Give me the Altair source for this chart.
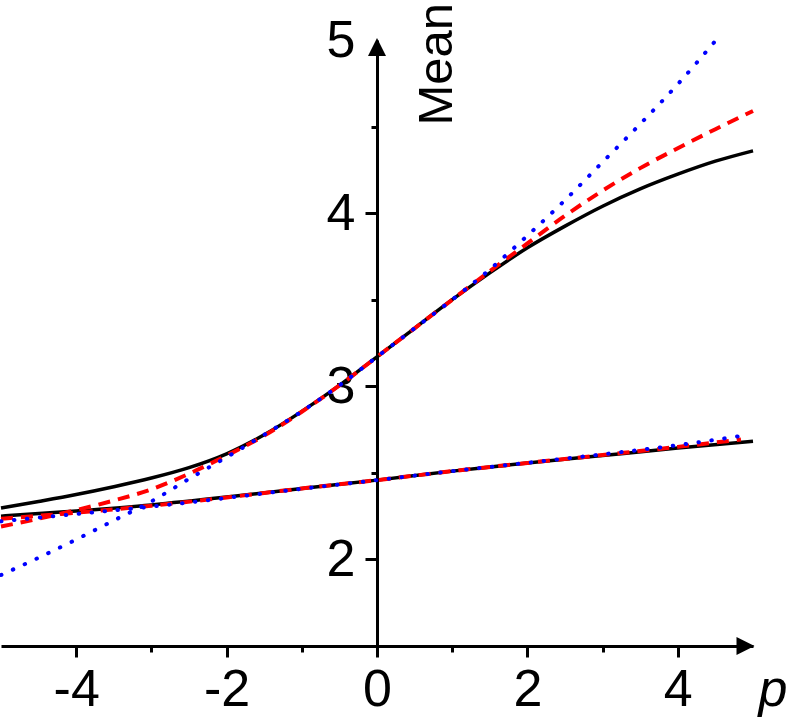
import altair as alt
import pandas as pd

# ---------------- data ----------------
UP_X = [-5.0, -4.5, -4.0, -3.5, -3.0, -2.5, -2.0, -1.5, -1.0, -0.5, 0.0,
        0.5, 1.0, 1.5, 2.0, 2.5, 3.0, 3.5, 4.0, 4.5, 5.0]
UP_BLACK = [2.297, 2.335, 2.375, 2.42, 2.47, 2.53, 2.61, 2.72, 2.855, 3.005, 3.17,
            3.335, 3.50, 3.655, 3.80, 3.925, 4.04, 4.14, 4.225, 4.30, 4.36]
UP_RED = [2.19, 2.235, 2.285, 2.34, 2.405, 2.495, 2.60, 2.715, 2.853, 3.005, 3.17,
          3.335, 3.50, 3.665, 3.825, 3.985, 4.13, 4.26, 4.375, 4.485, 4.59]
UP_BLUE_X = [-5.0, -4.5, -4.0, -3.5, -3.0, -2.5, -2.0, -1.5, -1.0, -0.5, 0.0,
             0.5, 1.0, 1.5, 2.0, 2.5, 3.0, 3.5, 4.0, 4.5]
UP_BLUE = [1.91, 2.01, 2.115, 2.225, 2.335, 2.465, 2.59, 2.72, 2.855, 3.005, 3.17,
           3.335, 3.50, 3.675, 3.87, 4.075, 4.295, 4.515, 4.745, 4.995]

LOW_X = [-5, -4, -3, -2, -1, 0, 1, 2, 3, 4, 5]
LOW_BLACK = [2.25, 2.28, 2.315, 2.36, 2.41, 2.458, 2.51, 2.557, 2.60, 2.643, 2.683]
LOW_RED_X = [-5, -4, -3, -2, -1, 0, 1, 2, 3, 4, 4.84]
LOW_RED = [2.235, 2.27, 2.31, 2.358, 2.41, 2.458, 2.51, 2.557, 2.603, 2.65, 2.693]
LOW_BLUE_X = [-5, -4, -3, -2, -1, 0, 1, 2, 3, 4, 4.82]
LOW_BLUE = [2.22, 2.262, 2.305, 2.355, 2.408, 2.458, 2.51, 2.558, 2.607, 2.66, 2.712]

X_TICKS = [-4, -3, -2, -1, 0, 1, 2, 3, 4]
Y_TICKS = [2, 2.5, 3, 3.5, 4, 4.5, 5]
X_DOMAIN = [-5, 5]
Y_DOMAIN = [1.5, 5]


def frame(xs, ys, name):
    return pd.DataFrame({"x": xs, "y": ys, "curve": name})


black_df = pd.concat([frame(UP_X, UP_BLACK, "upper"), frame(LOW_X, LOW_BLACK, "lower")])
red_df = pd.concat([frame(UP_X, UP_RED, "upper"), frame(LOW_RED_X, LOW_RED, "lower")])
blue_df = pd.concat([frame(UP_BLUE_X, UP_BLUE, "upper"), frame(LOW_BLUE_X, LOW_BLUE, "lower")])

W, H = 752, 606
FONT = "Liberation Sans"

xs = alt.Scale(domain=X_DOMAIN, nice=False, zero=False)
ys = alt.Scale(domain=Y_DOMAIN, nice=False, zero=False)

x_axis = alt.Axis(
    values=X_TICKS,
    labelExpr="datum.value % 2 === 0 ? '' + datum.value : ''",
    tickSize={"condition": {"test": "datum.value % 2 !== 0", "value": 6}, "value": 11},
    tickWidth=3, tickColor="black",
    domainWidth=3, domainColor="black",
    labelFont=FONT, labelFontSize=52, labelColor="black", labelPadding=7,
    labelOverlap=False, labelFlush=False,
    grid=False,
    title="p", titleFont=FONT, titleFontSize=52, titleFontStyle="italic",
    titleFontWeight="normal", titleColor="black", titleAngle=0,
    titleAlign="left", titleBaseline="alphabetic", titleX=757, titleY=59,
)

y_axis = alt.Axis(
    values=Y_TICKS, orient="left", offset=-W / 2,
    labelExpr="datum.value % 1 === 0 ? '' + datum.value : ''",
    tickSize={"condition": {"test": "datum.value % 1 !== 0", "value": 6}, "value": 12},
    tickOpacity={"condition": {"test": "datum.value >= 5", "value": 0}, "value": 1},
    tickWidth=3, tickColor="black",
    domainWidth=3, domainColor="black",
    labelFont=FONT, labelFontSize=52, labelColor="black", labelPadding=10,
    labelOverlap=False, labelFlush=False,
    grid=False,
    title="Mean", titleFont=FONT, titleFontSize=49, titleFontWeight="normal",
    titleColor="black", titleAngle=270, titleAlign="left",
    titleBaseline="alphabetic", titleX=74, titleY=85,
)

xe = alt.X("x:Q", scale=xs, axis=x_axis)
ye = alt.Y("y:Q", scale=ys, axis=y_axis)

black = alt.Chart(black_df).mark_line(
    color="black", strokeWidth=3.5, interpolate="monotone"
).encode(x=xe, y=ye, detail="curve:N")

red = alt.Chart(red_df).mark_line(
    color="#ff0000", strokeWidth=4, strokeDash=[12, 8], interpolate="monotone"
).encode(x=xe, y=ye, detail="curve:N")

blue = alt.Chart(blue_df).mark_line(
    color="#0000ff", strokeWidth=4, strokeDash=[0.5, 12.5], strokeCap="round",
    interpolate="monotone"
).encode(x=xe, y=ye, detail="curve:N")

# axis arrow heads
up_arrow = alt.Chart(pd.DataFrame({"x": [0.0], "y": [4.96]})).mark_point(
    shape="M0,-1L1,1L-1,1Z", filled=True, size=324, color="black", opacity=1
).encode(x=xe, y=ye)

right_arrow = alt.Chart(pd.DataFrame({"x": [4.9], "y": [1.5]})).mark_point(
    shape="M1,0L-1,-1L-1,1Z", filled=True, size=324, color="black", opacity=1
).encode(x=xe, y=ye)

chart = alt.layer(black, red, blue, up_arrow, right_arrow).properties(
    width=W, height=H,
    autosize=alt.AutoSizeParams(type="none"),
    padding={"left": 1, "top": 40, "right": 34, "bottom": 71},
    background="white",
).configure_view(stroke=None)

chart.save("out.html", embed_options={"renderer": "svg", "actions": False})
